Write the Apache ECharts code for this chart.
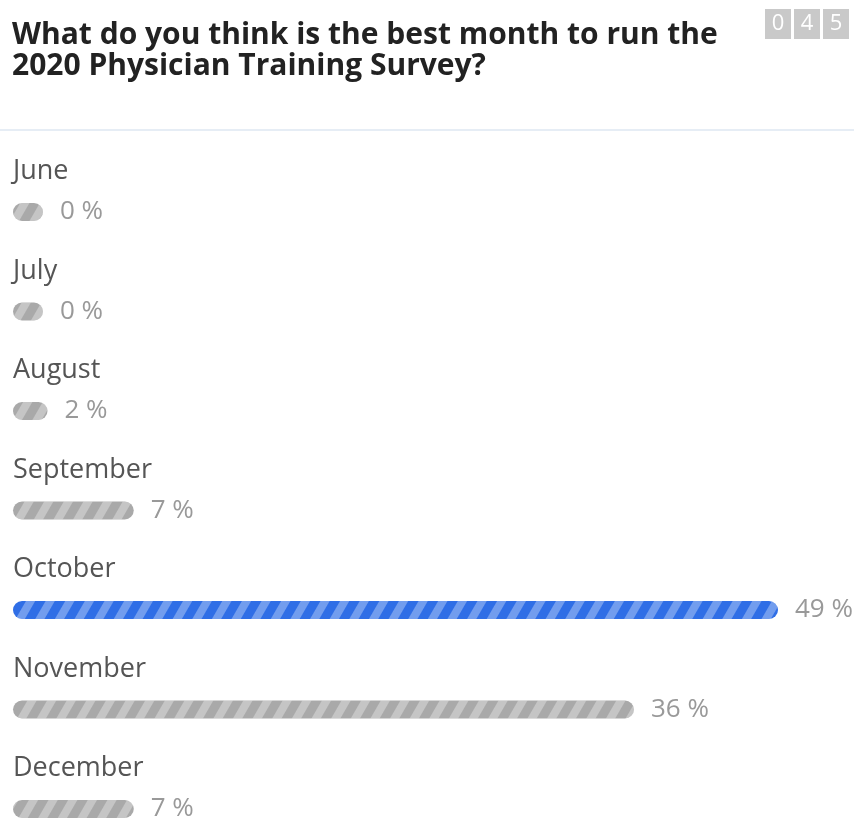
<!DOCTYPE html>
<html>
<head>
<meta charset="utf-8">
<script src="https://cdn.jsdelivr.net/npm/echarts@6/dist/echarts.min.js"></script>
<style>
html,body{margin:0;padding:0;background:#fff;}
#chart{width:854px;height:819px;}
</style>
</head>
<body>
<div id="chart"></div>
<script>
const titleText = 'What do you think is the best month to run the\n2020 Physician Training Survey?';
const responseDigits = ['0', '4', '5'];
const categories = ['June', 'July', 'August', 'September', 'October', 'November', 'December'];
const percentValues = [0, 0, 2, 7, 49, 36, 7];

const maxVal = Math.max.apply(null, percentValues);
const GRAY = '#a9a9a9', BLUE = '#2f6ee6';

function stripe(){
  return {symbol:'rect', symbolSize:1, dashArrayX:[1,0], dashArrayY:[8,9], rotation:-Math.PI/3, color:'rgba(255,255,255,0.32)'};
}

const chart = echarts.init(document.getElementById('chart'), null, {renderer:'canvas'});

const digitBoxes = responseDigits.map((d, i) => ({
  type:'group', left: 765 + i*29, top: 9,
  children:[
    {type:'rect', shape:{x:0,y:0,width:26,height:30}, style:{fill:'#c9c9c9'}},
    {type:'text', x:13, y:15, style:{text:d, fill:'#fff', font:'22px "Open Sans"', align:'center', verticalAlign:'middle'}}
  ]
}));

chart.setOption({
  animation:false,
  backgroundColor:'#fff',
  title:{
    text:titleText, left:7, top:15,
    textStyle:{fontFamily:'Open Sans', fontWeight:'bold', fontSize:30, lineHeight:31, color:'#222'}
  },
  graphic: digitBoxes.concat([
    {type:'rect', shape:{x:0,y:129,width:854,height:2}, style:{fill:'#e6edf5'}}
  ]),
  grid:{left:13, width:765, top:162.25, height:696.5, containLabel:false, outerBoundsMode:'none'},
  xAxis:{type:'value', min:0, max:44.35, show:false},
  yAxis:{
    type:'category', data:categories, inverse:true,
    axisLine:{show:false}, axisTick:{show:false}, splitLine:{show:false},
    axisLabel:{inside:true, margin:0, verticalAlign:'bottom', padding:[0,0,27,0],
      fontFamily:'Open Sans', fontSize:27, color:'#555'}
  },
  series:[{
    type:'bar', barWidth:18, barMinHeight:30, clip:true,
    data: percentValues.map(v => ({
      value:v,
      itemStyle:{color: v===maxVal ? BLUE : GRAY, borderRadius:9, decal:stripe()}
    })),
    label:{show:true, position:'right', distance:17, formatter: p => p.value + ' %',
      fontFamily:'Open Sans', fontSize:26, color:'#999'}
  }]
});
</script>
</body>
</html>
